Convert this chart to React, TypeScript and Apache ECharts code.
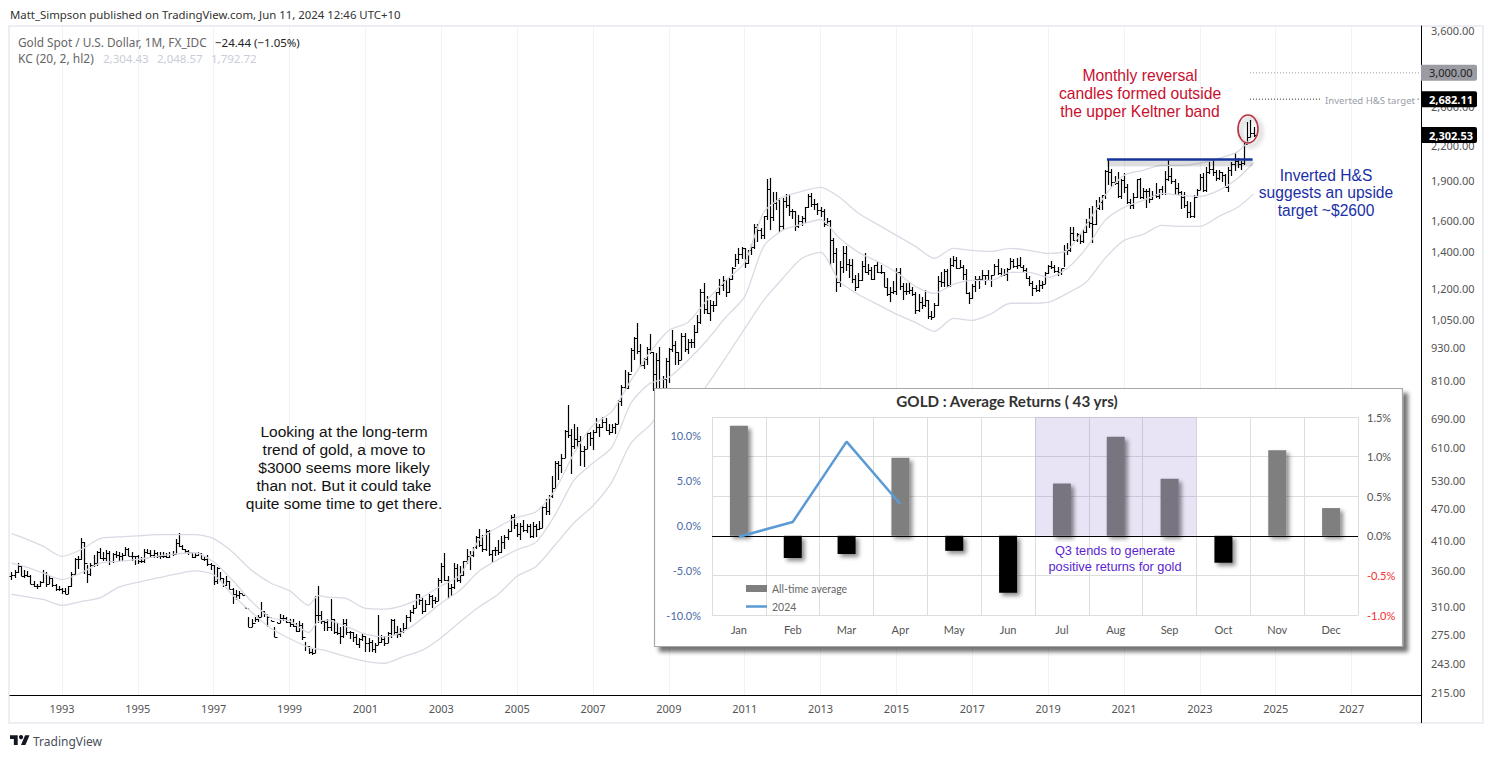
import React, { useEffect, useRef } from "react";
import * as echarts from "echarts";

// Monthly [high, low, close], first row = Sep 1991
const barsHLC: number[][] = [
  [358,346,354],[362,350,358],[372,357,367],[368,352,353],
  [361,350,354],[360,351,353],[354,341,341],[345,336,337],[341,333,338],[345,336,343],[361,342,357],[359,336,341],[352,341,349],[350,336,339],[340,331,334],[338,331,333],
  [335,326,330],[335,326,327],[338,326,337],[358,336,355],[381,354,378],[383,363,378],[415,377,408],[408,355,372],[369,342,355],[372,352,370],[385,366,373],[392,368,391],
  [397,378,381],[390,375,381],[393,376,389],[392,369,376],[388,373,387],[392,380,386],[390,376,384],[389,375,386],[398,383,395],[397,383,384],[390,375,383],[384,370,383],
  [385,371,375],[382,372,376],[396,373,391],[396,387,389],[394,381,385],[394,381,388],[390,380,384],[390,379,384],[390,380,384],[388,380,382],[390,381,387],[392,384,387],
  [412,387,406],[423,398,400],[402,393,396],[396,388,392],[394,385,391],[391,381,382],[388,381,385],[391,384,388],[389,378,379],[384,375,378],[385,367,371],[372,362,369],
  [369,339,345],[366,341,364],[358,344,349],[349,336,339],[352,337,345],[345,333,334],[335,313,326],[332,318,325],[331,319,328],[326,325,325],[309,307,307],[296,283,284],
  [294,284,288],[296,290,294],[299,290,296],[315,296,303],[304,296,300],[297,284,296],[292,291,291],[284,272,272],[290,289,289],[300,289,295],[298,291,295],[296,288,290],
  [293,283,287],[293,283,285],[289,278,279],[291,278,286],[289,268,272],[266,256,262],[261,253,255],[258,252,254],[324,254,299],[338,288,299],[304,287,291],[291,279,290],
  [293,279,283],[319,279,293],[294,275,278],[288,274,276],[283,264,273],[294,271,289],[293,274,278],[279,269,278],[278,266,272],[275,263,264],[271,259,269],[275,267,273],
  [273,255,265],[271,255,266],[268,255,258],[265,254,263],[298,263,266],[274,265,270],[273,262,265],[278,265,276],[294,271,292],[294,274,278],[285,271,275],[282,272,279],
  [288,277,282],[299,281,296],[305,290,302],[311,300,308],[327,307,326],[327,312,318],[321,300,304],[318,302,313],[327,312,323],[325,308,318],[322,313,317],[349,317,347],
  [372,342,367],[388,345,347],[353,320,335],[340,324,336],[373,334,364],[371,343,346],[367,342,354],[376,352,375],[395,371,384],[392,362,386],[399,382,398],[417,395,416],
  [430,399,402],[419,391,396],[430,392,426],[428,384,387],[394,372,393],[398,384,393],[410,385,391],[417,388,408],[419,396,416],[430,411,426],[456,425,453],[458,431,438],
  [442,416,422],[442,411,435],[447,424,428],[439,423,435],[439,414,417],[444,415,436],[439,416,430],[446,429,433],[474,432,473],[489,456,465],[497,457,495],[540,492,513],
  [574,510,569],[574,530,564],[593,546,583],[655,582,654],[730,634,643],[658,543,613],[674,605,632],[663,607,626],[640,563,599],[612,560,604],[649,604,647],[650,613,635],
  [655,603,651],[690,648,665],[672,636,663],[693,662,680],[690,652,657],[672,642,650],[672,648,665],[677,645,672],[744,672,743],[795,726,788],[845,781,783],[838,782,833],
  [930,838,923],[975,885,970],[1033,905,917],[945,858,865],[893,850,887],[935,865,926],[987,905,913],[915,775,833],[912,736,884],[935,681,723],[825,705,814],[890,745,879],
  [930,800,927],[1006,916,942],[960,865,916],[915,865,884],[990,882,979],[990,915,927],[965,905,953],[965,930,955],[1026,930,995],[1070,990,1040],[1195,1030,1182],[1227,1075,1096],
  [1162,1075,1081],[1140,1045,1118],[1135,1085,1115],[1181,1112,1180],[1249,1165,1214],[1266,1185,1243],[1245,1155,1181],[1253,1177,1248],[1310,1240,1308],[1388,1313,1358],[1424,1330,1386],[1432,1360,1421],
  [1425,1308,1333],[1412,1330,1410],[1448,1381,1431],[1575,1418,1556],[1577,1462,1536],[1552,1478,1502],[1632,1480,1628],[1912,1604,1826],[1921,1535,1623],[1804,1600,1722],[1803,1670,1746],[1764,1523,1563],
  [1764,1538,1738],[1791,1689,1711],[1792,1628,1668],[1677,1612,1664],[1668,1527,1560],[1640,1548,1598],[1630,1565,1615],[1693,1582,1692],[1790,1686,1776],[1796,1692,1719],[1755,1670,1714],[1723,1635,1675],
  [1695,1625,1663],[1682,1554,1578],[1616,1564,1597],[1605,1321,1472],[1488,1338,1393],[1423,1180,1234],[1348,1208,1313],[1434,1282,1396],[1434,1292,1327],[1361,1251,1323],[1361,1227,1250],[1267,1187,1204],
  [1280,1200,1240],[1345,1238,1321],[1392,1277,1283],[1331,1268,1295],[1315,1240,1245],[1326,1240,1322],[1345,1280,1283],[1324,1273,1286],[1287,1207,1208],[1255,1160,1171],[1206,1130,1182],[1238,1170,1183],
  [1307,1167,1283],[1307,1190,1213],[1224,1142,1183],[1224,1167,1183],[1232,1169,1190],[1205,1162,1172],[1178,1077,1095],[1169,1085,1132],[1156,1098,1115],[1191,1107,1142],[1142,1052,1064],[1088,1046,1060],
  [1128,1060,1118],[1263,1110,1237],[1283,1208,1234],[1303,1208,1291],[1303,1199,1215],[1362,1207,1322],[1375,1310,1351],[1367,1302,1309],[1352,1305,1315],[1326,1241,1273],[1304,1171,1173],[1181,1122,1152],
  [1219,1146,1211],[1264,1180,1249],[1262,1195,1249],[1296,1243,1268],[1270,1214,1268],[1296,1236,1241],[1270,1204,1269],[1331,1267,1321],[1357,1271,1280],[1306,1260,1271],[1300,1264,1275],[1306,1236,1303],
  [1366,1302,1345],[1361,1307,1318],[1365,1303,1325],[1369,1314,1315],[1326,1282,1298],[1309,1250,1253],[1266,1211,1224],[1235,1160,1201],[1214,1180,1192],[1243,1182,1214],[1237,1196,1222],[1284,1221,1282],
  [1326,1276,1321],[1347,1303,1313],[1324,1281,1292],[1310,1266,1283],[1304,1267,1305],[1439,1310,1409],[1452,1381,1413],[1555,1400,1520],[1557,1465,1472],[1517,1459,1513],[1516,1445,1464],[1535,1454,1523],
  [1611,1517,1589],[1689,1548,1585],[1704,1451,1577],[1747,1568,1686],[1765,1670,1730],[1785,1671,1780],[1984,1757,1975],[2075,1863,1968],[1992,1849,1886],[1933,1860,1879],[1965,1764,1777],[1906,1755,1898],
  [1959,1802,1847],[1872,1717,1734],[1755,1677,1708],[1798,1677,1769],[1913,1760,1906],[1916,1750,1770],[1834,1750,1814],[1832,1684,1814],[1834,1722,1757],[1814,1746,1783],[1877,1758,1775],[1831,1753,1829],
  [1853,1780,1797],[1974,1781,1909],[2070,1895,1937],[1998,1872,1897],[1909,1787,1837],[1879,1785,1807],[1814,1681,1766],[1808,1688,1711],[1735,1615,1661],[1730,1617,1633],[1786,1617,1769],[1833,1765,1824],
  [1949,1824,1929],[1960,1804,1824],[2009,1810,1969],[2049,1950,1990],[2079,1932,1963],[1983,1893,1919],[1987,1903,1965],[1966,1884,1940],[1953,1848,1849],[2009,1810,1984],[2052,1931,2036],[2135,1973,2063],
  [2089,2002,2039],[2065,1985,2044],[2222,2030,2217],[2431,2228,2286],[2450,2277,2327],[2387,2287,2302],
];
const firstBarYear = 1991 + 8 / 12;
const firstBarOpen = 352;

const kcYears = [1991.67,1992,1992.5,1993,1993.5,1994,1994.5,1995,1995.5,1996,1996.5,1997,1997.5,1998,1998.5,1999,1999.5,1999.75,2000,2000.5,2001,2001.5,2002,2002.5,2003,2003.5,2004,2004.5,2005,2005.5,2006,2006.5,2007,2007.5,2008,2008.5,2009,2009.5,2010,2010.5,2011,2011.5,2012,2012.5,2013,2013.5,2014,2014.5,2015,2015.5,2016,2016.5,2017,2017.5,2018,2018.5,2019,2019.5,2020,2020.5,2021,2021.5,2022,2022.5,2023,2023.5,2024,2024.42];
const kcUpper = [422,414,400,383,394,413,416,418,420,420,420,413,390,361,342,331,311,324,322,320,307,306,311,322,338,354,411,434,452,463,508,594,669,710,810,913,1002,1037,1139,1240,1338,1656,1766,1811,1842,1766,1650,1574,1502,1433,1362,1421,1409,1403,1421,1409,1391,1409,1567,1781,1939,1981,2023,2023,2042,2085,2145,2304];
const kcMiddle = [372,367,357,347,357,372,375,378,383,387,389,374,346,316,295,291,277,290,292,284,275,272,278,294,314,332,360,378,394,407,457,530,570,610,735,800,820,882,960,1060,1157,1433,1534,1574,1607,1483,1397,1344,1283,1209,1173,1219,1240,1240,1283,1283,1256,1305,1421,1601,1692,1743,1796,1781,1773,1819,1915,2048];
const kcLower = [326,323,319,311,316,321,336,343,349,355,360,354,325,302,282,270,260,258,256,250,245,243,250,257,271,290,309,326,352,367,402,442,475,526,620,669,729,713,793,893,1010,1139,1250,1361,1397,1235,1168,1120,1074,1037,998,1055,1046,1076,1125,1125,1129,1173,1230,1362,1470,1508,1567,1560,1560,1628,1693,1792];

const necklineYears = [2020.55, 2024.39];
const necklinePrices = [2075, 2075];
const necklineShadowPrices = [2040, 2040];
const dottedStartYear = 2024.32;
const target3000 = 3000;
const targetHS = 2682.11;
const lastClose = 2302.53;

const priceTagValues = [target3000, targetHS, lastClose];
const priceTagTexts = ["3,000.00", "2,682.11", "2,302.53"];

const yearTicks = [1993,1995,1997,1999,2001,2003,2005,2007,2009,2011,2013,2015,2017,2019,2021,2023,2025,2027];
const priceTicks = [3600,2600,2200,1900,1600,1400,1200,1050,930,810,690,610,530,470,410,360,310,275,243,215];

const months = ["Jan","Feb","Mar","Apr","May","Jun","Jul","Aug","Sep","Oct","Nov","Dec"];
const avgReturns = [1.39,-0.28,-0.23,0.985,-0.19,-0.72,0.66,1.25,0.72,-0.34,1.08,0.35];
const returns2024: (number | null)[] = [-1.3,0.33,9.26,2.3,null,null,null,null,null,null,null,null];
const q3Months = ["Jul","Aug","Sep"];
const q3Top = 1.5;

const UI = '"Noto Sans", sans-serif';
const ARIAL = '"Liberation Sans", Arial, sans-serif';
const LATO = 'Lato, "Noto Sans", sans-serif';

function label(text: string, x: number, y: number, font: string, fill: string, align = "left", z = 20) {
  return { type: "text", x, y, z, style: { text, font, fill, align, verticalAlign: "middle" } };
}

export default function App() {
  const ref = useRef<HTMLDivElement>(null);
  useEffect(() => {
    document.body.style.margin = "0";
    const chart = echarts.init(ref.current!, undefined, { renderer: "svg" });
    const xMin = 1991.63;
    const xMax = 2028.83;
    const ohlc = barsHLC.map((b, i) => [
      firstBarYear + i / 12,
      i === 0 ? firstBarOpen : barsHLC[i - 1][2],
      b[0], b[1], b[2],
    ]);
    const kc = (vals: number[]) => ({
      type: "line", xAxisIndex: 0, yAxisIndex: 0, z: 1, symbol: "none", silent: true, smooth: 0.25,
      lineStyle: { color: "#d8dbe4", width: 1.3 },
      data: vals.map((v, i) => [kcYears[i], v]),
    });
    const option: any = {
      animation: false,
      backgroundColor: "#fff",
      title: {
        text: "GOLD : Average Returns ( 43 yrs)",
        left: 1002, top: 388, textAlign: "center", z: 8,
        textStyle: { fontFamily: LATO, fontWeight: "bold", fontSize: 15.2, color: "#333" },
      },
      grid: [
        { left: 10, right: 72, top: 26, bottom: 63, containLabel: false },
        { left: 712, top: 417, width: 646, height: 198, containLabel: false },
      ],
      xAxis: [
        {
          type: "value", gridIndex: 0, min: xMin, max: xMax, z: 0,
          axisLine: { onZero: false, lineStyle: { color: "#000", width: 1 } },
          axisTick: { show: false, customValues: yearTicks },
          axisLabel: { customValues: yearTicks, color: "#555", fontFamily: UI, fontSize: 11, margin: 8, formatter: (v: number) => String(v) },
          splitLine: { show: true, lineStyle: { color: "#f0f2f7", width: 1 } },
        },
        {
          type: "category", gridIndex: 1, data: months, z: 5,
          axisLine: { show: true, onZero: false, lineStyle: { color: "#ddd" } },
          axisTick: { show: false },
          axisLabel: { color: "#555", fontFamily: LATO, fontSize: 11, margin: 9 },
          splitLine: { show: true, lineStyle: { color: "#dddddf", width: 1 } },
        },
      ],
      yAxis: [
        {
          type: "log", gridIndex: 0, position: "right", min: 212.3, max: 3662, z: 0,
          axisLine: { show: true, lineStyle: { color: "#000", width: 1 } },
          axisTick: { show: false, customValues: priceTicks },
          axisLabel: {
            customValues: priceTicks, color: "#555", fontFamily: UI, fontSize: 11, margin: 10,
            formatter: (v: number) => v.toLocaleString("en-US", { minimumFractionDigits: 2, maximumFractionDigits: 2 }),
          },
          splitLine: { show: false },
        },
        {
          type: "value", gridIndex: 1, position: "left", min: -10, max: 12, interval: 5, z: 5,
          axisLine: { show: false }, axisTick: { show: false }, splitLine: { show: false },
          axisLabel: {
            color: "#4a6aa8", fontFamily: LATO, fontSize: 11, margin: 11,
            formatter: (v: number) => (v > 10 ? "" : v.toFixed(1) + "%"),
          },
        },
        {
          type: "value", gridIndex: 1, position: "right", min: -1, max: 1.5, interval: 0.5, z: 5,
          axisLine: { show: false }, axisTick: { show: false },
          splitLine: { show: true, lineStyle: { color: "#dddddf", width: 1 } },
          axisLabel: {
            color: (v: any) => (Number(v) < 0 ? "#f03030" : "#555"),
            fontFamily: LATO, fontSize: 11, margin: 9,
            formatter: (v: number) => v.toFixed(1) + "%",
          },
        },
      ],
      legend: {
        show: true, orient: "vertical", left: 741, top: 578, itemWidth: 21, itemHeight: 7, itemGap: 7, z: 8,
        data: [
          { name: "All-time average", icon: "rect" },
          { name: "2024", icon: "path://M0 0H100V12H0Z" },
        ],
        textStyle: { color: "#666", fontFamily: LATO, fontSize: 10.5 },
        selectedMode: false,
      },
      series: [
        {
          type: "custom", name: "Gold", xAxisIndex: 0, yAxisIndex: 0, z: 1, silent: true, clip: false,
          encode: { x: 0, y: [2, 3] },
          data: ohlc,
          renderItem: (_: any, api: any) => {
            const x = api.value(0);
            const [px, pO] = api.coord([x, api.value(1)]);
            const pH = api.coord([x, api.value(2)])[1];
            const pL = api.coord([x, api.value(3)])[1];
            const pC = api.coord([x, api.value(4)])[1];
            const cx = Math.round(px) + 0.5;
            const snap = (v: number) => Math.round(v) + 0.5;
            const ln = (x1: number, y1: number, x2: number, y2: number, w: number) => ({
              type: "line", shape: { x1, y1, x2, y2 }, style: { stroke: "#000", lineWidth: w },
            });
            return {
              type: "group",
              children: [
                ln(cx, Math.round(pH), cx, Math.round(pL), 1.2),
                ln(cx - 2, snap(pO), cx, snap(pO), 1),
                ln(cx, snap(pC), cx + 2, snap(pC), 1),
              ],
            };
          },
        },
        kc(kcUpper), kc(kcMiddle), kc(kcLower),
        {
          type: "line", name: "Neckline shadow", xAxisIndex: 0, yAxisIndex: 0, z: 2, symbol: "none", silent: true,
          lineStyle: { color: "rgba(0,0,0,0.13)", width: 6 },
          data: necklineYears.map((y, i) => [y, necklineShadowPrices[i]]),
        },
        {
          type: "line", name: "Neckline", xAxisIndex: 0, yAxisIndex: 0, z: 2, symbol: "none", silent: true,
          lineStyle: { color: "#17339a", width: 2.5 },
          data: necklineYears.map((y, i) => [y, necklinePrices[i]]),
        },
        {
          type: "line", name: "3000", xAxisIndex: 0, yAxisIndex: 0, z: 2, symbol: "none", silent: true,
          lineStyle: { color: "#9a9a9a", width: 1, type: [1, 2] },
          data: [[dottedStartYear, target3000], [xMax, target3000]],
        },
        {
          type: "line", name: "Target", xAxisIndex: 0, yAxisIndex: 0, z: 2, symbol: "none", silent: true,
          lineStyle: { color: "#222", width: 1, type: [1, 2] },
          data: [[dottedStartYear, targetHS], [2026.17, targetHS], ["-", "-"], [2028.74, targetHS], [2028.8, targetHS]],
        },
        {
          type: "custom", name: "Price tags", xAxisIndex: 0, yAxisIndex: 0, z: 12, silent: true, clip: false,
          encode: { y: 1 },
          data: priceTagValues.map((v, i) => [xMax, v, i]),
          renderItem: (_: any, api: any) => {
            const i = api.value(2);
            const [x, y] = api.coord([api.value(0), api.value(1)]);
            const grey = i === 0;
            return {
              type: "group",
              children: [
                { type: "rect", shape: { x, y: y - 8, width: 56, height: 16, r: [0, 2, 2, 0] }, style: { fill: grey ? "#9b9ca3" : "#000" } },
                { type: "text", style: { text: priceTagTexts[i], x: x + 8, y, fill: grey ? "#222" : "#fff", font: `${grey ? "" : "bold "}11px ${UI}`, align: "left", verticalAlign: "middle" } },
              ],
            };
          },
        },
        {
          type: "custom", name: "Q3", xAxisIndex: 1, yAxisIndex: 2, z: 5, silent: true,
          encode: { x: 0, y: 1 },
          data: q3Months.map((m) => [m, q3Top]),
          renderItem: (_: any, api: any) => {
            const cat = api.value(0);
            const top = api.coord([cat, api.value(1)]);
            const zero = api.coord([cat, 0]);
            const w = api.size([1, 0])[0];
            return {
              type: "rect",
              shape: { x: top[0] - w / 2, y: top[1], width: w, height: zero[1] - top[1] },
              style: { fill: "rgba(110,85,195,0.16)" },
            };
          },
        },
        {
          type: "bar", name: "All-time average", xAxisIndex: 1, yAxisIndex: 2, z: 6, barWidth: 18, silent: true,
          itemStyle: { color: "#7f7f7f" },
          data: avgReturns.map((v, i) => ({
            value: v,
            itemStyle: {
              color: v < 0 ? "#000" : q3Months.includes(months[i]) ? "#787480" : "#7f7f7f",
              shadowColor: "rgba(0,0,0,0.45)", shadowBlur: 4, shadowOffsetX: 3, shadowOffsetY: 3,
            },
          })),
          markLine: {
            silent: true, symbol: "none", label: { show: false },
            lineStyle: { color: "#000", width: 1, type: "solid" },
            data: [{ yAxis: 0 }],
          },
        },
        {
          type: "line", name: "2024", xAxisIndex: 1, yAxisIndex: 1, z: 7, symbol: "none", silent: true,
          lineStyle: { color: "#5b9bd5", width: 2.5 },
          itemStyle: { color: "#5b9bd5" },
          data: returns2024,
        },
      ],
      graphic: {
        elements: [
          { type: "rect", z: 0, shape: { x: 9, y: 26, width: 1474, height: 697 }, style: { fill: "none", stroke: "#eceef3", lineWidth: 2 } },
          { type: "line", z: 0, shape: { x1: 1421.5, y1: 695, x2: 1421.5, y2: 723 }, style: { stroke: "#000", lineWidth: 1 } },
          label("Matt_Simpson published on TradingView.com, Jun 11, 2024 12:46 UTC+10", 10, 14, `11.4px ${UI}`, "#333"),
          label("Gold Spot / U.S. Dollar, 1M, FX_IDC", 18, 42, `11.8px ${UI}`, "#666"),
          label("−24.44 (−1.05%)", 215, 42, `11.5px ${UI}`, "#222"),
          label("KC (20, 2, hl2)", 18, 58, `12px ${UI}`, "#666"),
          label("2,304.43", 103, 58, `11.5px ${UI}`, "#c9cdd8"),
          label("2,048.57", 157, 58, `11.5px ${UI}`, "#c9cdd8"),
          label("1,792.72", 211, 58, `11.5px ${UI}`, "#c9cdd8"),
          label("Monthly reversal", 1140, 75, `15.7px ${ARIAL}`, "#c8102e", "center"),
          label("candles formed outside", 1140, 93, `15.7px ${ARIAL}`, "#c8102e", "center"),
          label("the upper Keltner band", 1140, 111, `15.7px ${ARIAL}`, "#c8102e", "center"),
          label("Inverted H&S", 1326, 175, `15.6px ${ARIAL}`, "#1a2fa5", "center"),
          label("suggests an upside", 1326, 192, `15.6px ${ARIAL}`, "#1a2fa5", "center"),
          label("target ~$2600", 1326, 210, `15.6px ${ARIAL}`, "#1a2fa5", "center"),
          label("Looking at the long-term", 344, 431, `15.5px ${ARIAL}`, "#111", "center"),
          label("trend of gold, a move to", 344, 449, `15.5px ${ARIAL}`, "#111", "center"),
          label("$3000 seems more likely", 344, 467, `15.5px ${ARIAL}`, "#111", "center"),
          label("than not. But it could take", 344, 485, `15.5px ${ARIAL}`, "#111", "center"),
          label("quite some time to get there.", 344, 503, `15.5px ${ARIAL}`, "#111", "center"),
          label("Inverted H&S target", 1325, 100, `9.6px ${UI}`, "#9a9ea8"),
          {
            type: "ellipse", z: 15, shape: { cx: 1248, cy: 129, rx: 10, ry: 14 },
            style: { fill: "none", stroke: "#b5303f", lineWidth: 1.6, shadowColor: "rgba(0,0,0,0.4)", shadowBlur: 5, shadowOffsetX: 3, shadowOffsetY: 3 },
          },
          {
            type: "rect", z: 3, shape: { x: 654.5, y: 388.5, width: 748, height: 258 },
            style: { fill: "#fff", stroke: "#a8a8a8", lineWidth: 1.2, shadowColor: "rgba(0,0,0,0.55)", shadowBlur: 4, shadowOffsetX: 5, shadowOffsetY: 5 },
          },
          label("Q3 tends to generate", 1115, 550, `12.8px ${ARIAL}`, "#5a1fd0", "center"),
          label("positive returns for gold", 1115, 566, `12.8px ${ARIAL}`, "#5a1fd0", "center"),
          {
            type: "group", x: 10, y: 733, scaleX: 0.55, scaleY: 0.55, z: 20,
            children: [
              { type: "polygon", shape: { points: [[0,4],[14,4],[14,22],[7,22],[7,11],[0,11]] }, style: { fill: "#131722" } },
              { type: "polygon", shape: { points: [[20,22],[27.5,4],[35.5,4],[28,22]] }, style: { fill: "#131722" } },
              { type: "circle", shape: { cx: 20, cy: 7.5, r: 3.8 }, style: { fill: "#131722" } },
            ],
          },
          label("TradingView", 33, 741, `12px ${UI}`, "#4a4e59"),
        ],
      },
    };
    chart.setOption(option);
    return () => chart.dispose();
  }, []);
  return <div ref={ref} style={{ width: 1493, height: 758 }} />;
}
